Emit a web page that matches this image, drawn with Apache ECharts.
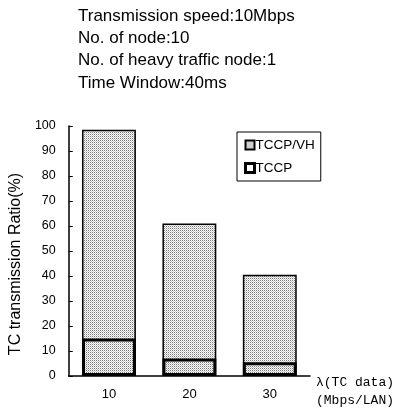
<!DOCTYPE html>
<html>
<head>
<meta charset="utf-8">
<script src="https://cdn.jsdelivr.net/npm/echarts@6/dist/echarts.min.js"></script>
<style>
  html, body { margin: 0; padding: 0; background: #fff; }
  #chart { width: 403px; height: 414px; }
</style>
</head>
<body>
<div id="chart"></div>
<script>
const categories = ['10', '20', '30'];
const tccpVH = [98.5, 61, 40.5];
const tccp = [15, 7, 5.5];
const infoLines = [
  'Transmission speed:10Mbps',
  'No. of node:10',
  'No. of heavy traffic node:1',
  'Time Window:40ms'
];

// dotted grey fill like the halftone in the print
function dotPattern() {
  let c = document.createElement('canvas');
  c.width = 2; c.height = 2;
  let ctx = c.getContext('2d');
  ctx.fillStyle = '#fff';
  ctx.fillRect(0, 0, 2, 2);
  ctx.fillStyle = '#777';
  ctx.fillRect(0, 0, 1, 1);
  ctx.fillStyle = '#c8c8c8';
  ctx.fillRect(1, 1, 1, 1);
  return c;
}
const dots = { image: dotPattern(), repeat: 'repeat' };

const chart = echarts.init(document.getElementById('chart'));
chart.setOption({
  animation: false,
  textStyle: { fontFamily: 'Liberation Sans, Arial, sans-serif', color: '#000' },
  title: {
    text: infoLines.join('\n'),
    left: 73,
    top: 0,
    textStyle: { fontSize: 17, fontWeight: 'normal', lineHeight: 22.3, color: '#000' }
  },
  legend: {
    data: [
      { name: 'TCCP/VH' },
      { name: 'TCCP', itemStyle: { color: '#fff', borderColor: '#000', borderWidth: 3 } }
    ],
    orient: 'vertical',
    left: 237,
    top: 132,
    width: 81,
    padding: [6, 6, 6, 7],
    itemGap: 9,
    itemWidth: 9,
    itemHeight: 9,
    borderColor: '#000',
    borderWidth: 1,
    icon: 'rect',
    textStyle: { fontSize: 13.5, color: '#000', padding: [0, 0, 0, -4] }
  },
  grid: { left: 68, right: 93, top: 126, bottom: 38 },
  xAxis: {
    type: 'category',
    data: categories,
    name: 'λ(TC data)\n(Mbps/LAN)',
    nameLocation: 'end',
    nameGap: 6,
    nameTextStyle: {
      fontFamily: 'Liberation Mono, DejaVu Sans Mono, monospace',
      fontSize: 13,
      lineHeight: 18,
      align: 'left',
      verticalAlign: 'top',
      padding: [-2, 0, 0, 0]
    },
    axisLine: { lineStyle: { color: '#000', width: 1.5 } },
    axisTick: { inside: true, length: 4, lineStyle: { color: '#000' } },
    axisLabel: { fontSize: 13, margin: 12, color: '#000' }
  },
  yAxis: {
    type: 'value',
    min: 0,
    max: 100,
    interval: 10,
    name: 'TC transmission Ratio(%)',
    nameLocation: 'middle',
    nameGap: 42,
    nameTextStyle: { fontSize: 16, padding: [0, 26, 0, 0] },
    splitLine: { show: false },
    axisLine: { show: true, lineStyle: { color: '#000', width: 1.5 } },
    axisTick: { show: true, inside: true, length: 4, lineStyle: { color: '#000' } },
    axisLabel: { fontSize: 12.5, margin: 13, color: '#000' }
  },
  series: [
    {
      name: 'TCCP/VH',
      type: 'bar',
      data: tccpVH,
      barWidth: '67%',
      itemStyle: { color: dots, borderColor: '#000', borderWidth: 1.5 }
    },
    {
      name: 'TCCP',
      type: 'bar',
      data: tccp,
      barWidth: '67%',
      barGap: '-100%',
      itemStyle: { color: 'rgba(255,255,255,0)', borderColor: '#000', borderWidth: 3 }
    }
  ]
});
</script>
</body>
</html>
